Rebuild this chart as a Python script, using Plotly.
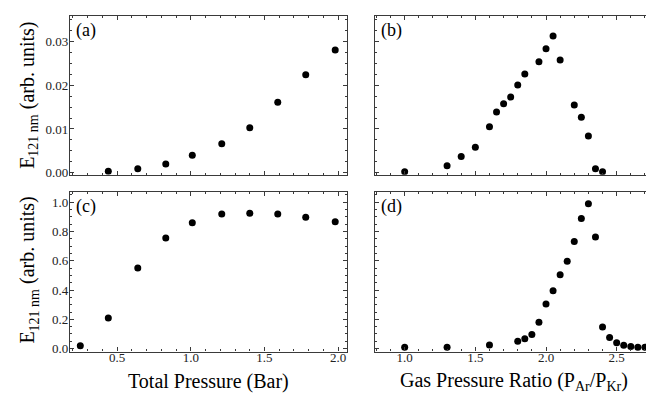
import plotly.graph_objects as go

# Panel (a): total pressure vs E121nm (low range)
pressure_a = [0.44, 0.64, 0.83, 1.01, 1.21, 1.40, 1.59, 1.78, 1.98]
e121_a = [0.0003, 0.0009, 0.0020, 0.0040, 0.0066, 0.0103, 0.0161, 0.0224, 0.0281]

# Panel (b): gas pressure ratio vs E121nm (low range)
ratio_b = [1.0, 1.3, 1.4, 1.5, 1.6, 1.65, 1.7, 1.75, 1.8, 1.85, 1.95, 2.0, 2.05, 2.1,
           2.2, 2.25, 2.3, 2.35, 2.4]
e121_b = [0.0002, 0.0016, 0.0037, 0.0058, 0.0105, 0.0139, 0.0158, 0.0173, 0.0201, 0.0226,
          0.0254, 0.0284, 0.0313, 0.0258, 0.0155, 0.0127, 0.0084, 0.0009, 0.0002]

# Panel (c): total pressure vs E121nm
pressure_c = [0.25, 0.44, 0.64, 0.83, 1.01, 1.21, 1.40, 1.59, 1.78, 1.98]
e121_c = [0.02, 0.21, 0.55, 0.755, 0.86, 0.92, 0.925, 0.92, 0.897, 0.866]

# Panel (d): gas pressure ratio vs E121nm
ratio_d = [1.0, 1.3, 1.6, 1.8, 1.85, 1.9, 1.95, 2.0, 2.05, 2.1, 2.15, 2.2, 2.25, 2.3,
           2.35, 2.4, 2.45, 2.5, 2.55, 2.6, 2.65, 2.7]
e121_d = [0.01, 0.01, 0.025, 0.05, 0.067, 0.097, 0.18, 0.305, 0.395, 0.505, 0.597,
          0.731, 0.888, 0.99, 0.762, 0.148, 0.076, 0.041, 0.023, 0.015, 0.01, 0.01]

panel_labels = ["(a)", "(b)", "(c)", "(d)"]
xtitle_left = "Total Pressure (Bar)"
xtitle_right = "Gas Pressure Ratio (P<sub>Ar</sub>/P<sub>Kr</sub>)"
ytitle = "E<sub>121 nm</sub> (arb. units)"

W, H = 654, 393
FONT = "Liberation Serif"
LINE = "#3a3a3a"

def px_x(p):
    return p / W

def px_y(p):
    return 1 - p / H

xl = [px_x(62), px_x(339)]
xr = [px_x(367), px_x(644)]
yt = [px_y(169), px_y(8)]
yb = [px_y(348), px_y(186)]

fig = go.Figure()
mk = dict(color="black", size=7)
fig.add_trace(go.Scatter(x=pressure_a, y=e121_a, mode="markers", marker=mk, xaxis="x", yaxis="y"))
fig.add_trace(go.Scatter(x=ratio_b, y=e121_b, mode="markers", marker=mk, xaxis="x2", yaxis="y2"))
fig.add_trace(go.Scatter(x=pressure_c, y=e121_c, mode="markers", marker=mk, xaxis="x3", yaxis="y3"))
fig.add_trace(go.Scatter(x=ratio_d, y=e121_d, mode="markers", marker=mk, xaxis="x4", yaxis="y4"))

def axis(domain, rng, dtick, minor_dtick, fmt, labels, anchor, standoff=0):
    return dict(
        domain=domain, range=rng, anchor=anchor,
        showline=True, linecolor=LINE, linewidth=1.2, mirror="allticks",
        ticks="inside", ticklen=4, tickwidth=1, tickcolor=LINE,
        dtick=dtick, tick0=0, tickformat=fmt,
        showticklabels=labels, showgrid=False, zeroline=False,
        ticklabelstandoff=standoff,
        tickfont=dict(family=FONT, size=13, color="#222"),
        minor=dict(ticks="inside", ticklen=2, dtick=minor_dtick, tickcolor=LINE, showgrid=False),
    )

xrange_l = [0.18, 2.06]
xrange_r = [0.79, 2.75]
yrange_t = [-0.0005, 0.0359]
yrange_b = [-0.02, 1.072]

fig.update_layout(
    width=W, height=H,
    margin=dict(l=0, r=0, t=0, b=0),
    paper_bgcolor="white", plot_bgcolor="white",
    showlegend=False,
    font=dict(family=FONT),
    xaxis=axis(xl, xrange_l, 0.5, 0.1, ".1f", False, "y"),
    yaxis=axis(yt, yrange_t, 0.01, 0.0025, ".2f", True, "x", -2),
    xaxis2=axis(xr, xrange_r, 0.5, 0.1, ".1f", False, "y2"),
    yaxis2=axis(yt, yrange_t, 0.01, 0.0025, ".2f", False, "x2"),
    xaxis3=axis(xl, xrange_l, 0.5, 0.1, ".1f", True, "y3", -6),
    yaxis3=axis(yb, yrange_b, 0.2, 0.05, ".1f", True, "x3", -2),
    xaxis4=axis(xr, xrange_r, 0.5, 0.1, ".1f", True, "y4", -6),
    yaxis4=axis(yb, yrange_b, 0.2, 0.05, ".1f", False, "x4"),
)

ann = []
label_pos = [(xl[0], yt[1]), (xr[0], yt[1]), (xl[0], yb[1]), (xr[0], yb[1])]
for lab, (x0, y1) in zip(panel_labels, label_pos):
    ann.append(dict(text=lab, x=x0 + 4 / W, y=y1 - 2 / H, xref="paper", yref="paper",
                    xanchor="left", yanchor="top", showarrow=False,
                    font=dict(family=FONT, size=18, color="black")))
ann.append(dict(text=xtitle_left, x=(xl[0] + xl[1]) / 2, y=px_y(378), xref="paper", yref="paper",
                xanchor="center", yanchor="middle", showarrow=False,
                font=dict(family=FONT, size=20, color="black")))
ann.append(dict(text=xtitle_right, x=(xr[0] + xr[1]) / 2, y=px_y(378), xref="paper", yref="paper",
                xanchor="center", yanchor="middle", showarrow=False,
                font=dict(family=FONT, size=20, color="black")))
for yc in [px_y(89), px_y(266)]:
    ann.append(dict(text=ytitle, x=px_x(21), y=yc, xref="paper", yref="paper",
                    xanchor="center", yanchor="middle", textangle=-90, showarrow=False,
                    font=dict(family=FONT, size=20, color="black")))
fig.update_layout(annotations=ann)

fig.write_html("out.html")
